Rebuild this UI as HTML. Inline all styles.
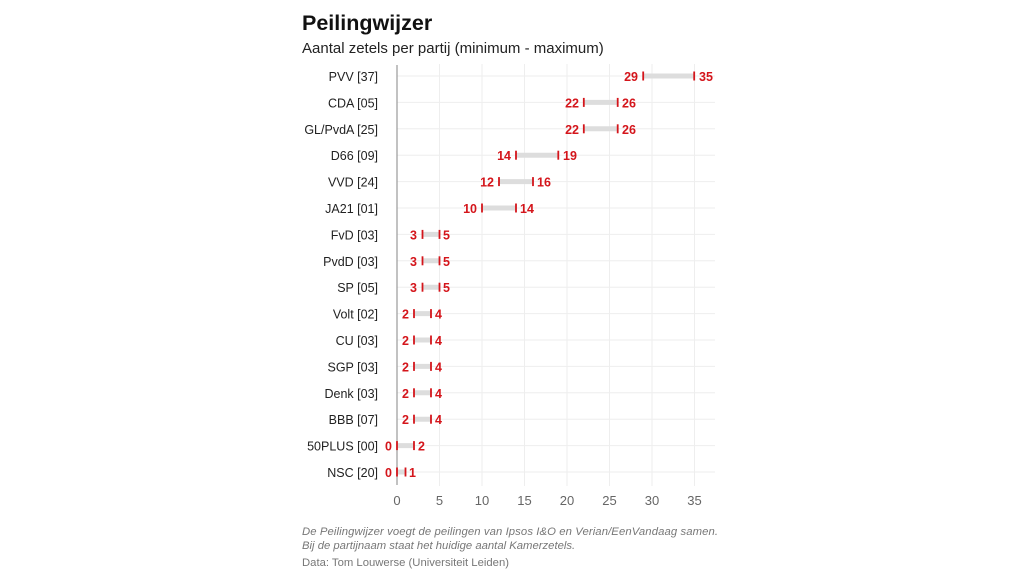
<!DOCTYPE html>
<html><head><meta charset="utf-8"><style>
body{margin:0;width:1024px;height:576px;background:#fff;overflow:hidden;font-family:"Liberation Sans",sans-serif}
svg{position:absolute;left:0;top:0}
.l{font-size:12.5px;fill:#222;text-anchor:end}
.v{font-size:12.5px;font-weight:bold;fill:#d4151b}
.mn{text-anchor:end}
.t{font-size:13px;fill:#666;text-anchor:middle}
</style></head><body>
<svg width="1024" height="576">
<text x="302" y="30" font-size="21.5" font-weight="bold" fill="#111">Peilingwijzer</text>
<text x="302" y="53" font-size="15" fill="#222">Aantal zetels per partij (minimum - maximum)</text>
<g stroke="#eee" stroke-width="1">
<line x1="439.5" y1="64" x2="439.5" y2="486"/><line x1="482" y1="64" x2="482" y2="486"/><line x1="524.5" y1="64" x2="524.5" y2="486"/><line x1="567" y1="64" x2="567" y2="486"/><line x1="609.5" y1="64" x2="609.5" y2="486"/><line x1="652" y1="64" x2="652" y2="486"/><line x1="694.5" y1="64" x2="694.5" y2="486"/>
<line x1="397" y1="76" x2="715" y2="76"/><line x1="397" y1="102.4" x2="715" y2="102.4"/><line x1="397" y1="128.8" x2="715" y2="128.8"/><line x1="397" y1="155.2" x2="715" y2="155.2"/><line x1="397" y1="181.6" x2="715" y2="181.6"/><line x1="397" y1="208" x2="715" y2="208"/><line x1="397" y1="234.4" x2="715" y2="234.4"/><line x1="397" y1="260.8" x2="715" y2="260.8"/><line x1="397" y1="287.2" x2="715" y2="287.2"/><line x1="397" y1="313.6" x2="715" y2="313.6"/><line x1="397" y1="340" x2="715" y2="340"/><line x1="397" y1="366.4" x2="715" y2="366.4"/><line x1="397" y1="392.8" x2="715" y2="392.8"/><line x1="397" y1="419.2" x2="715" y2="419.2"/><line x1="397" y1="445.6" x2="715" y2="445.6"/><line x1="397" y1="472" x2="715" y2="472"/>
</g>
<line x1="397" y1="65" x2="397" y2="485" stroke="#999" stroke-width="1.2"/>
<g stroke="#ddd" stroke-width="5">
<line x1="643.2" y1="76" x2="694.2" y2="76"/>
<line x1="583.8" y1="102.4" x2="617.7" y2="102.4"/>
<line x1="583.8" y1="128.8" x2="617.7" y2="128.8"/>
<line x1="516" y1="155.2" x2="558.3" y2="155.2"/>
<line x1="499" y1="181.6" x2="533" y2="181.6"/>
<line x1="482" y1="208" x2="516" y2="208"/>
<line x1="422.5" y1="234.4" x2="439.5" y2="234.4"/>
<line x1="422.5" y1="260.8" x2="439.5" y2="260.8"/>
<line x1="422.5" y1="287.2" x2="439.5" y2="287.2"/>
<line x1="414" y1="313.6" x2="431" y2="313.6"/>
<line x1="414" y1="340" x2="431" y2="340"/>
<line x1="414" y1="366.4" x2="431" y2="366.4"/>
<line x1="414" y1="392.8" x2="431" y2="392.8"/>
<line x1="414" y1="419.2" x2="431" y2="419.2"/>
<line x1="397" y1="445.6" x2="414" y2="445.6"/>
<line x1="397" y1="472" x2="405.5" y2="472"/>
</g>
<g stroke="#d4151b" stroke-width="1.8">
<line x1="643.2" y1="71.5" x2="643.2" y2="80.5"/><line x1="694.2" y1="71.5" x2="694.2" y2="80.5"/>
<line x1="583.8" y1="97.9" x2="583.8" y2="106.9"/><line x1="617.7" y1="97.9" x2="617.7" y2="106.9"/>
<line x1="583.8" y1="124.3" x2="583.8" y2="133.3"/><line x1="617.7" y1="124.3" x2="617.7" y2="133.3"/>
<line x1="516" y1="150.7" x2="516" y2="159.7"/><line x1="558.3" y1="150.7" x2="558.3" y2="159.7"/>
<line x1="499" y1="177.1" x2="499" y2="186.1"/><line x1="533" y1="177.1" x2="533" y2="186.1"/>
<line x1="482" y1="203.5" x2="482" y2="212.5"/><line x1="516" y1="203.5" x2="516" y2="212.5"/>
<line x1="422.5" y1="229.9" x2="422.5" y2="238.9"/><line x1="439.5" y1="229.9" x2="439.5" y2="238.9"/>
<line x1="422.5" y1="256.3" x2="422.5" y2="265.3"/><line x1="439.5" y1="256.3" x2="439.5" y2="265.3"/>
<line x1="422.5" y1="282.7" x2="422.5" y2="291.7"/><line x1="439.5" y1="282.7" x2="439.5" y2="291.7"/>
<line x1="414" y1="309.1" x2="414" y2="318.1"/><line x1="431" y1="309.1" x2="431" y2="318.1"/>
<line x1="414" y1="335.5" x2="414" y2="344.5"/><line x1="431" y1="335.5" x2="431" y2="344.5"/>
<line x1="414" y1="361.9" x2="414" y2="370.9"/><line x1="431" y1="361.9" x2="431" y2="370.9"/>
<line x1="414" y1="388.3" x2="414" y2="397.3"/><line x1="431" y1="388.3" x2="431" y2="397.3"/>
<line x1="414" y1="414.7" x2="414" y2="423.7"/><line x1="431" y1="414.7" x2="431" y2="423.7"/>
<line x1="397" y1="441.1" x2="397" y2="450.1"/><line x1="414" y1="441.1" x2="414" y2="450.1"/>
<line x1="397" y1="467.5" x2="397" y2="476.5"/><line x1="405.5" y1="467.5" x2="405.5" y2="476.5"/>
</g>
<g class="v">
<text class="mn" x="638" y="81">29</text><text x="699" y="81">35</text>
<text class="mn" x="579" y="107.4">22</text><text x="622" y="107.4">26</text>
<text class="mn" x="579" y="133.8">22</text><text x="622" y="133.8">26</text>
<text class="mn" x="511" y="160.2">14</text><text x="563" y="160.2">19</text>
<text class="mn" x="494" y="186.6">12</text><text x="537" y="186.6">16</text>
<text class="mn" x="477" y="213">10</text><text x="520" y="213">14</text>
<text class="mn" x="417" y="239.4">3</text><text x="443" y="239.4">5</text>
<text class="mn" x="417" y="265.8">3</text><text x="443" y="265.8">5</text>
<text class="mn" x="417" y="292.2">3</text><text x="443" y="292.2">5</text>
<text class="mn" x="409" y="318.6">2</text><text x="435" y="318.6">4</text>
<text class="mn" x="409" y="345">2</text><text x="435" y="345">4</text>
<text class="mn" x="409" y="371.4">2</text><text x="435" y="371.4">4</text>
<text class="mn" x="409" y="397.8">2</text><text x="435" y="397.8">4</text>
<text class="mn" x="409" y="424.2">2</text><text x="435" y="424.2">4</text>
<text class="mn" x="392" y="450.6">0</text><text x="418" y="450.6">2</text>
<text class="mn" x="392" y="477">0</text><text x="409" y="477">1</text>
</g>
<g class="l">
<text x="378" y="81">PVV [37]</text>
<text x="378" y="107.4">CDA [05]</text>
<text x="378" y="133.8">GL/PvdA [25]</text>
<text x="378" y="160.2">D66 [09]</text>
<text x="378" y="186.6">VVD [24]</text>
<text x="378" y="213">JA21 [01]</text>
<text x="378" y="239.4">FvD [03]</text>
<text x="378" y="265.8">PvdD [03]</text>
<text x="378" y="292.2">SP [05]</text>
<text x="378" y="318.6">Volt [02]</text>
<text x="378" y="345">CU [03]</text>
<text x="378" y="371.4">SGP [03]</text>
<text x="378" y="397.8">Denk [03]</text>
<text x="378" y="424.2">BBB [07]</text>
<text x="378" y="450.6">50PLUS [00]</text>
<text x="378" y="477">NSC [20]</text>
</g>
<g class="t">
<text x="397" y="505">0</text><text x="439.5" y="505">5</text><text x="482" y="505">10</text><text x="524.5" y="505">15</text><text x="567" y="505">20</text><text x="609.5" y="505">25</text><text x="652" y="505">30</text><text x="694.5" y="505">35</text>
</g>
<text x="302" y="535" font-size="11.3" font-style="italic" fill="#777" textLength="416">De Peilingwijzer voegt de peilingen van Ipsos I&amp;O en Verian/EenVandaag samen.</text>
<text x="302" y="549" font-size="11.3" font-style="italic" fill="#777">Bij de partijnaam staat het huidige aantal Kamerzetels.</text>
<text x="302" y="566" font-size="11.3" fill="#777">Data: Tom Louwerse (Universiteit Leiden)</text>
</svg>
</body></html>
